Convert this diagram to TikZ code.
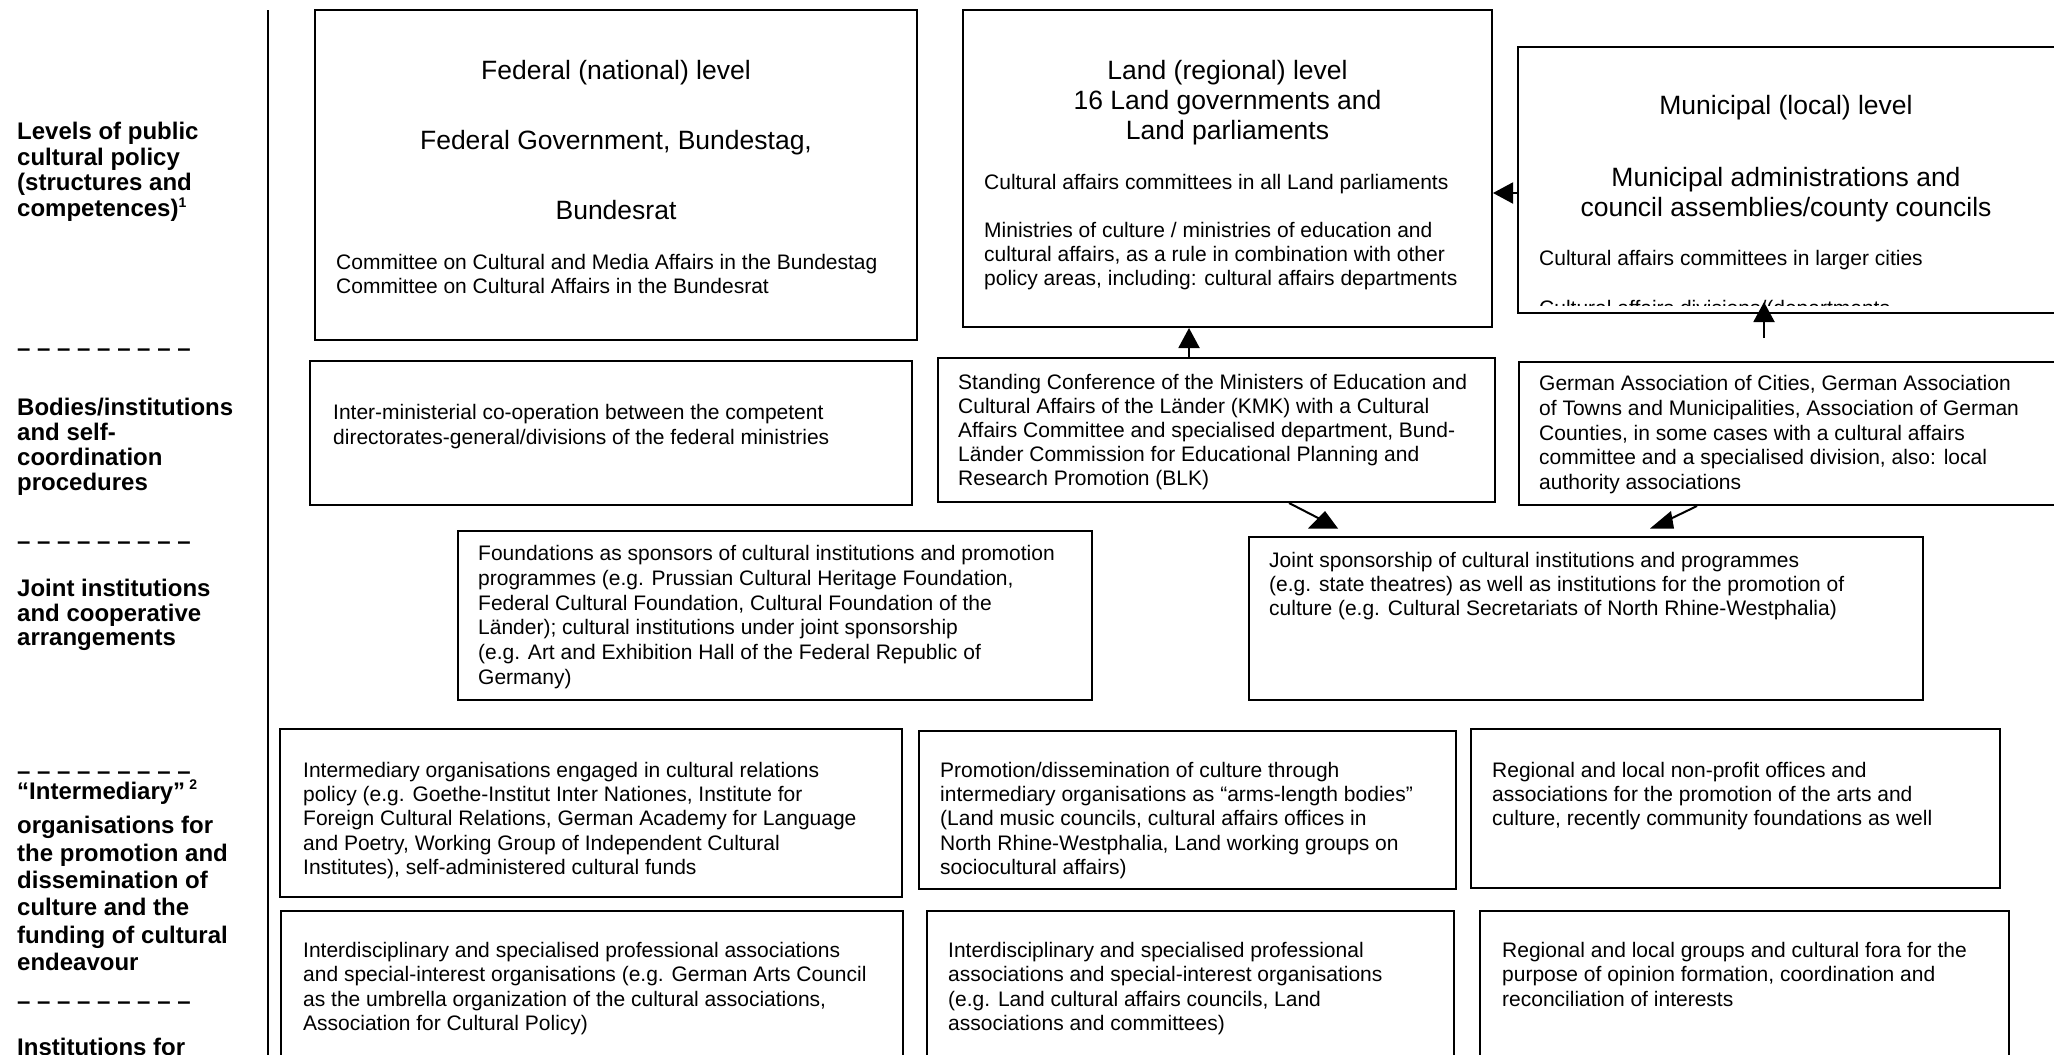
\documentclass[tikz,border=0pt]{standalone}
\usepackage{fontspec}
\setmainfont{Liberation Sans}
\usetikzlibrary{arrows.meta,fit}
\begin{document}
\begin{tikzpicture}[x=1pt,y=-1pt,
  box/.style={draw, line width=2pt, inner sep=0pt},
  body/.style={anchor=north west, inner sep=0pt, align=left, font=\fontsize{21}{24.5}\selectfont},
  head/.style={anchor=north, inner sep=0pt, align=center, font=\fontsize{26.5}{30}\selectfont},
  lab/.style={anchor=north west, inner sep=0pt, align=left, font=\fontsize{24}{27}\selectfont\bfseries},
  dashlab/.style={anchor=base west, inner sep=0pt, font=\fontsize{24}{27}\selectfont\bfseries},
  conn/.style={line width=2pt},
  arr/.style={line width=2pt, -{Triangle[length=20pt,width=21pt]}}]
\useasboundingbox (0,0) rectangle (2054,1055);
\clip (0,0) rectangle (2054,1055);

% separator line
\coordinate (sepT) at (268,10);
\coordinate (sepB) at (268,1060);
\draw[line width=1.8pt] (sepT) -- (sepB);

% ---------- left labels ----------
\node[lab, font=\fontsize{24}{25.5}\selectfont\bfseries] (l1) at (17,122) {Levels of public\\cultural policy\\(structures and\\competences)\textsuperscript{\fontsize{14}{14}\selectfont 1}};
\node[dashlab] (d1) at (17,356) {– – – – – – – – –};
\node[lab, font=\fontsize{24}{25}\selectfont\bfseries] (l2) at (17,398) {Bodies/institutions\\and self-\\coordination\\procedures};
\node[dashlab] (d2) at (17,549) {– – – – – – – – –};
\node[lab, font=\fontsize{24}{24.5}\selectfont\bfseries] (l3) at (17,579) {Joint institutions\\and cooperative\\arrangements};
\node[dashlab] (d3) at (17,779) {– – – – – – – – –};
\node[lab] (l4a) at (17,780) {“Intermediary”\,\textsuperscript{\fontsize{14}{14}\selectfont 2}};
\node[lab, font=\fontsize{24}{27.4}\selectfont\bfseries] (l4) at (17,816) {organisations for\\the promotion and\\dissemination of\\culture and the\\funding of cultural\\endeavour};
\node[dashlab] (d4) at (17,1009) {– – – – – – – – –};
\node[lab] (l5) at (17,1038) {Institutions for};

% ---------- row 1 ----------
\node[box, fit={(315,10) (917,340)}] (fed) {};
\node[head] (fedh) at (616,60) {Federal (national) level\\[40pt]Federal Government, Bundestag,\\[40pt]Bundesrat};
\node[body, font=\fontsize{21}{24}\selectfont] (fedt) at (336,254) {Committee on Cultural and Media Affairs in the Bundestag\\Committee on Cultural Affairs in the Bundesrat};

\node[box, fit={(963,10) (1492,327)}] (land) {};
\node[head] (landh) at (1227.5,60) {Land (regional) level\\16 Land governments and\\Land parliaments};
\node[body, font=\fontsize{21}{24}\selectfont] (landt) at (984,174) {Cultural affairs committees in all Land parliaments\\[24pt]Ministries of culture / ministries of education and\\cultural affairs, as a rule in combination with other\\policy areas, including: cultural affairs departments};

\node[box, fit={(1518,47) (2060,313)}] (mun) {};
\node[head] (munh) at (1786,95) {Municipal (local) level\\[42pt]Municipal administrations and\\council assemblies/county councils};
\begin{scope}
\clip (1518,47) rectangle (2054,305);
\node[body, font=\fontsize{21}{24}\selectfont] (munt) at (1539,250) {Cultural affairs committees in larger cities\\[26.5pt]Cultural affairs divisions/(departments};
\end{scope}

% ---------- row 2 ----------
\node[box, fit={(310,361) (912,505)}] (inter) {};
\node[body, font=\fontsize{21}{25}\selectfont] (intert) at (333,404) {Inter-ministerial co-operation between the competent\\directorates-general/divisions of the federal ministries};

\node[box, fit={(938,358) (1495,502)}] (kmk) {};
\node[body, font=\fontsize{21}{24}\selectfont] (kmkt) at (958,374) {Standing Conference of the Ministers of Education and\\Cultural Affairs of the Länder (KMK) with a Cultural\\Affairs Committee and specialised department, Bund-\\Länder Commission for Educational Planning and\\Research Promotion (BLK)};

\node[box, fit={(1519,362) (2060,505)}] (ga) {};
\node[body, font=\fontsize{21}{24.8}\selectfont] (gat) at (1539,375) {German Association of Cities, German Association\\of Towns and Municipalities, Association of German\\Counties, in some cases with a cultural affairs\\committee and a specialised division, also: local\\authority associations};

% ---------- row 3 ----------
\node[box, fit={(458,531) (1092,700)}] (found) {};
\node[body, font=\fontsize{21}{24.8}\selectfont] (foundt) at (478,545) {Foundations as sponsors of cultural institutions and promotion\\programmes (e.g. Prussian Cultural Heritage Foundation,\\Federal Cultural Foundation, Cultural Foundation of the\\Länder); cultural institutions under joint sponsorship\\(e.g. Art and Exhibition Hall of the Federal Republic of\\Germany)};

\node[box, fit={(1249,537) (1923,700)}] (joint) {};
\node[body, font=\fontsize{21}{24}\selectfont] (jointt) at (1269,552) {Joint sponsorship of cultural institutions and programmes\\(e.g. state theatres) as well as institutions for the promotion of\\culture (e.g. Cultural Secretariats of North Rhine-Westphalia)};

% ---------- row 4 ----------
\node[box, fit={(280,729) (902,897)}] (ia) {};
\node[body, font=\fontsize{21}{24.25}\selectfont] (iat) at (303,762) {Intermediary organisations engaged in cultural relations\\policy (e.g. Goethe-Institut Inter Nationes, Institute for\\Foreign Cultural Relations, German Academy for Language\\and Poetry, Working Group of Independent Cultural\\Institutes), self-administered cultural funds};

\node[box, fit={(919,731) (1456,889)}] (ib) {};
\node[body, font=\fontsize{21}{24.25}\selectfont] (ibt) at (940,762) {Promotion/dissemination of culture through\\intermediary organisations as “arms-length bodies”\\(Land music councils, cultural affairs offices in\\North Rhine-Westphalia, Land working groups on\\sociocultural affairs)};

\node[box, fit={(1471,729) (2000,888)}] (ic) {};
\node[body, font=\fontsize{21}{24.25}\selectfont] (ict) at (1492,762) {Regional and local non-profit offices and\\associations for the promotion of the arts and\\culture, recently community foundations as well};

% ---------- row 5 ----------
\node[box, fit={(281,911) (903,1080)}] (pa) {};
\node[body, font=\fontsize{21}{24.3}\selectfont] (pat) at (303,942) {Interdisciplinary and specialised professional associations\\and special-interest organisations (e.g. German Arts Council\\as the umbrella organization of the cultural associations,\\Association for Cultural Policy)};

\node[box, fit={(927,911) (1454,1080)}] (pb) {};
\node[body, font=\fontsize{21}{24.3}\selectfont] (pbt) at (948,942) {Interdisciplinary and specialised professional\\associations and special-interest organisations\\(e.g. Land cultural affairs councils, Land\\associations and committees)};

\node[box, fit={(1480,911) (2009,1080)}] (pc) {};
\node[body, font=\fontsize{21}{24.3}\selectfont] (pct) at (1502,942) {Regional and local groups and cultural fora for the\\purpose of opinion formation, coordination and\\reconciliation of interests};

% ---------- connectors ----------
\coordinate (xa) at (1189,0);
\draw[arr] (kmk.north -| xa) -- (land.south -| xa);

\coordinate (mfrom) at (1764,338);
\coordinate (mto) at (1764,302);
\draw[arr] (mfrom) -- (mto);

\coordinate (yh) at (0,193);
\draw[arr] (yh -| mun.west) -- (yh -| land.east);

\coordinate (k1) at (1289,503);
\coordinate (k2) at (1322,520);
\draw[conn] (k1) -- (k2);
\fill (1325,511) -- (1338,528.5) -- (1308,528.5) -- cycle;

\coordinate (g1) at (1697,506);
\coordinate (g2) at (1666,521);
\draw[conn] (g1) -- (g2);
\fill (1671,511) -- (1674,528.5) -- (1650,528.5) -- cycle;
\end{tikzpicture}
\end{document}
